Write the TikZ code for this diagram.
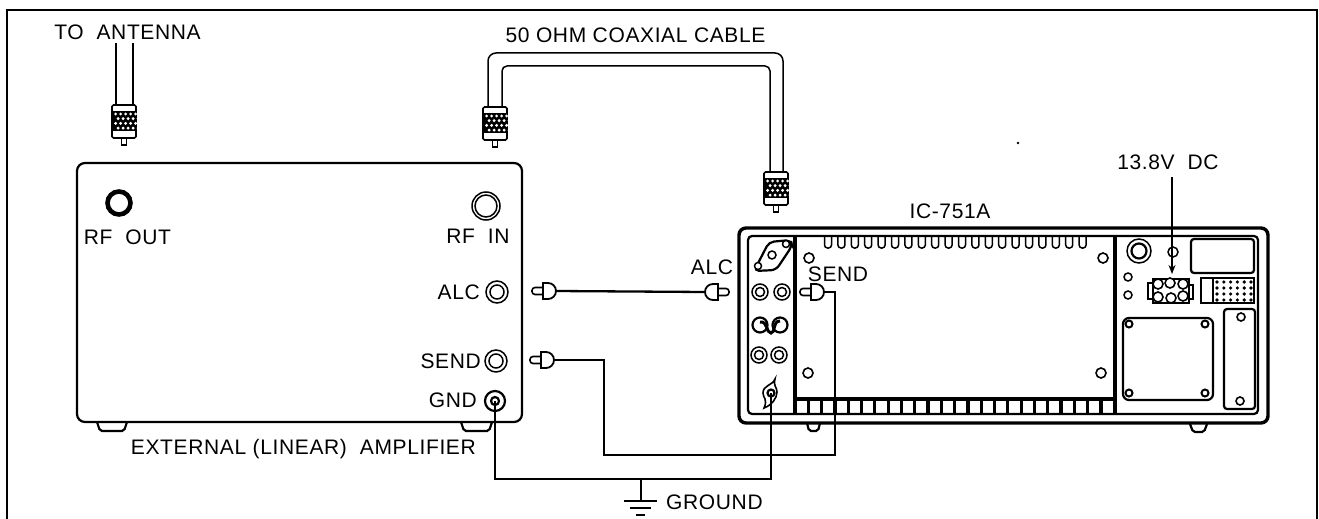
\documentclass[tikz,border=0pt]{standalone}
\usepackage{fontspec}
\usetikzlibrary{arrows.meta}
\setmainfont[LetterSpace=3]{Liberation Sans}
\tikzset{
  frameline/.style={line width=1.2pt},
  caseline/.style={line width=2.2pt},
  heavyline/.style={line width=3.4pt},
  thinline/.style={line width=1.5pt},
  wire/.style={line width=2.3pt},
  label/.style={inner sep=0pt},
  coaxplug/.pic={
    \draw[line width=1.7pt, fill=white, rounded corners=1.5pt] (-12,0) rectangle (12,33);
    \fill (-11.5,6) rectangle (11.5,26);
    \foreach \kr in {0,1,2,3}
      \foreach \kc in {0,1,2,3,4}
        \fill[white] ({-10+\kc*5+mod(\kr,2)*2.5},{9+\kr*4.7}) -- ++(1.6,-1.6) -- ++(1.6,1.6) -- ++(-1.6,1.6) -- cycle;
    \draw[line width=1.6pt, fill=white] (-2.5,33) rectangle (2.5,40);
  },
  rcaplug/.pic={
    \draw[line width=1.6pt, fill=white, rounded corners=3pt] (0,-3.5) rectangle (13,3.5);
    \draw[line width=1.8pt, fill=white] (11,-8) -- (16,-8) arc (-90:90:8) -- (11,8) -- cycle;
  },
  ringjack/.pic={
    \draw[line width=1.5pt] (0,0) circle (8);
    \draw[line width=1.5pt] (0,0) circle (4.5);
  }
}
\begin{document}
\begin{tikzpicture}[x=1pt, y=-1pt, font=\fontsize{21}{21}\selectfont]
    \useasboundingbox (0,0) rectangle (1319,519);

    % Outer frame
    \draw[frameline] (7,519) -- (7,10) -- (1317,10) -- (1317,519);

    % Amplifier
    \draw[caseline, rounded corners=8pt] (77,163) rectangle (522,422);
    \draw[caseline, rounded corners=2pt] (97,422) -- (100,431) -- (124,431) -- (127,422);
    \draw[caseline, rounded corners=2pt] (461,422) -- (464,431) -- (489,431) -- (492,422);
    \draw[line width=4.6pt] (119,203) circle (11.5);
    \draw[thinline] (486,206) circle (14);
    \draw[thinline] (486,206) circle (11);
    \draw[thinline] (497,292) circle (11);
    \draw[thinline] (497,292) circle (7);
    \draw[thinline] (496,361) circle (11);
    \draw[thinline] (496,361) circle (7);
    \draw[caseline] (495,401) circle (10);
    \draw[caseline] (495,401) circle (4);
    \node[label] (lblrfout) at (127.5,237) {RF~~OUT};
    \node[label] (lblrfin) at (478,236) {RF~~IN};
    \node[label, anchor=east] (lblampalc) at (480,292) {ALC};
    \node[label, anchor=east] (lblampsend) at (481,361) {SEND};
    \node[label, anchor=east] (lblampgnd) at (477,400) {GND};
    \node[label, anchor=east] (lblamp) at (476,449) {EXTERNAL (LINEAR)~~AMPLIFIER};

    % Radio case
    \draw[heavyline, rounded corners=7pt] (739,228) rectangle (1268,423);
    \draw[caseline, rounded corners=4pt] (748,236) -- (748,414) -- (1258,414) -- (1258,236) -- cycle;
    \draw[heavyline] (795,237) -- (795,399) -- (1115,399);
    \draw[heavyline] (1115,237) -- (1115,414);
    \draw[caseline, rounded corners=2pt] (807,423) -- (809,431) -- (818,431) -- (820,423);
    \draw[caseline, rounded corners=2pt] (1190,424) -- (1193,432) -- (1204,432) -- (1207,424);
    \foreach \vx in {0,...,19}
      \draw[line width=1.5pt, rounded corners=3pt] ({828+\vx*13.4-3.5},237) -- ({828+\vx*13.4-3.5},248) -- ({828+\vx*13.4+3.5},248) -- ({828+\vx*13.4+3.5},237);
    \foreach \sx in {0,...,24}
      \draw[line width=3.2pt] ({795+\sx*13.3},399) -- ({795+\sx*13.3},413);
    \foreach \hx/\hy in {809/258,1103/258,808/373,1101/373}
      \draw[line width=1.6pt] (\hx,\hy) circle (5);

    % Radio left panel
    \draw[line width=2.2pt, rounded corners=5pt] (754,271) -- (769,242) -- (791,240) -- (792,246) -- (776,270) -- cycle;
    \draw[line width=1.5pt] (772,255) circle (4);
    \draw[line width=1.5pt, fill=white] (786,244) circle (3.5);
    \draw[line width=1.5pt, fill=white] (758,266) circle (3.5);
    \foreach \jx/\jy in {760/292,782/292,759/355,779/355}
      \pic at (\jx,\jy) {ringjack};
    \draw[caseline] (760,325) circle (7.5);
    \draw[caseline] (780,325) circle (7.5);
    \draw[line width=3pt] (760,322) .. controls (768,321) and (766,333) .. (771,333) .. controls (776,333) and (772,321) .. (780,321);
    \draw[line width=1.6pt, fill=white] (775,379) .. controls (772,386) and (763,385) .. (763,393) .. controls (763,398) and (768,399) .. (764,408) .. controls (772,405) and (777,398) .. (777,392) .. controls (777,387) and (773,386) .. (775,379) -- cycle;
    \draw[caseline, fill=white] (771,393) circle (3.5);

    % Radio right panel
    \draw[thinline] (1139,251) circle (12);
    \draw[caseline] (1139,251) circle (7.5);
    \draw[thinline] (1173,252) circle (5);
    \draw[thinline] (1128,277) circle (4);
    \draw[thinline] (1128,295) circle (4);
    \draw[caseline, rounded corners=3pt] (1191,239) rectangle (1254,273);
    \draw[caseline] (1201,278) rectangle (1254,303);
    \draw[thinline] (1213,278) -- (1213,303);
    \foreach \dc in {0,...,5}
      \foreach \dr in {0,...,3}
        \fill ({1217+\dc*6.8},{282+\dr*6}) circle (1.8);
    \draw[caseline, rounded corners=6pt] (1123,318) rectangle (1213,400);
    \foreach \hx/\hy in {1129/324,1205/324,1129/393,1205/393}
      \draw[line width=2pt] (\hx,\hy) circle (3.5);
    \draw[caseline, rounded corners=3pt] (1224,309) rectangle (1255,409);
    \foreach \hx/\hy in {1241/317,1240/401}
      \draw[line width=1.6pt] (\hx,\hy) circle (4);

    % Power socket
    \draw[caseline] (1153,279) rectangle (1189,303);
    \draw[thinline] (1148,283) rectangle (1153,299);
    \draw[thinline] (1189,285) rectangle (1193,299);
    \foreach \px/\py in {1158/284,1170/283,1183/284,1158/297,1171/298,1183/296}
      \draw[line width=1.6pt, fill=white] (\px,\py) circle (5);

    % Antenna lead and coax cable
    \coordinate (antl) at (116,105);
    \coordinate (antr) at (133,105);
    \coordinate (antlt) at (116,43);
    \coordinate (antrt) at (133,43);
    \coordinate (coaxa) at (488,107);
    \coordinate (coaxb) at (502,107);
    \coordinate (coaxc) at (770,172);
    \coordinate (coaxd) at (783,172);
    \draw[thinline] (antlt) -- (antl) (antrt) -- (antr);
    \draw[thinline, rounded corners=8pt] (coaxa) |- (783,53) -- (coaxd);
    \draw[thinline, rounded corners=5pt] (coaxb) |- (770,66) -- (coaxc);
    \pic at (124,105) {coaxplug};
    \pic at (495,107) {coaxplug};
    \pic at (776,172) {coaxplug};

    % Control plugs
    \pic at (532,291) {rcaplug};
    \pic[xscale=-1] at (729,292) {rcaplug};
    \pic at (530,360) {rcaplug};
    \pic at (800,292) {rcaplug};
    \coordinate (alcl) at (556,291);
    \coordinate (alcr) at (705,292);
    \coordinate (sendl) at (554,360);
    \coordinate (sendr) at (824,292);
    \coordinate (amgnd) at (495,401);
    \coordinate (radgnd) at (771,393);
    \coordinate (gndjoin) at (641,479);

    % Wires
    \draw[wire] (alcl) -- (alcr);
    \draw[wire] (sendl) -- (604,360) -- (604,455) -- (835,455) -- (835,292) -- (sendr);
    \draw[wire] (amgnd) |- (gndjoin) -| (radgnd);
    \draw[wire] (gndjoin) -- (641,501);
    \draw[wire] (624,501) -- (657,501);
    \draw[line width=1.8pt] (630,508) -- (651,508);
    \draw[line width=1.8pt] (636,515) -- (645,515);

    % Power lead
    \coordinate (dctop) at (1172,177);
    \coordinate (dcend) at (1172,274);
    \draw[thinline, -{Stealth[length=9pt,width=7pt]}] (dctop) -- (dcend);

    % Labels
    \node[label] (lblant) at (127.5,32) {TO~~ANTENNA};
    \node[label] (lblcoax) at (635.5,35) {50 OHM COAXIAL CABLE};
    \node[label] (lblradio) at (950,211) {IC-751A};
    \node[label] (lbldc) at (1168,162) {13.8V~~DC};
    \node[label] (lblalc) at (712,267) {ALC};
    \node[label] (lblsend) at (838,274) {SEND};
    \node[label, anchor=west] (lblgnd) at (666,502) {GROUND};
    \fill (1018,143) circle (1.3);
  \end{tikzpicture}
\end{document}
